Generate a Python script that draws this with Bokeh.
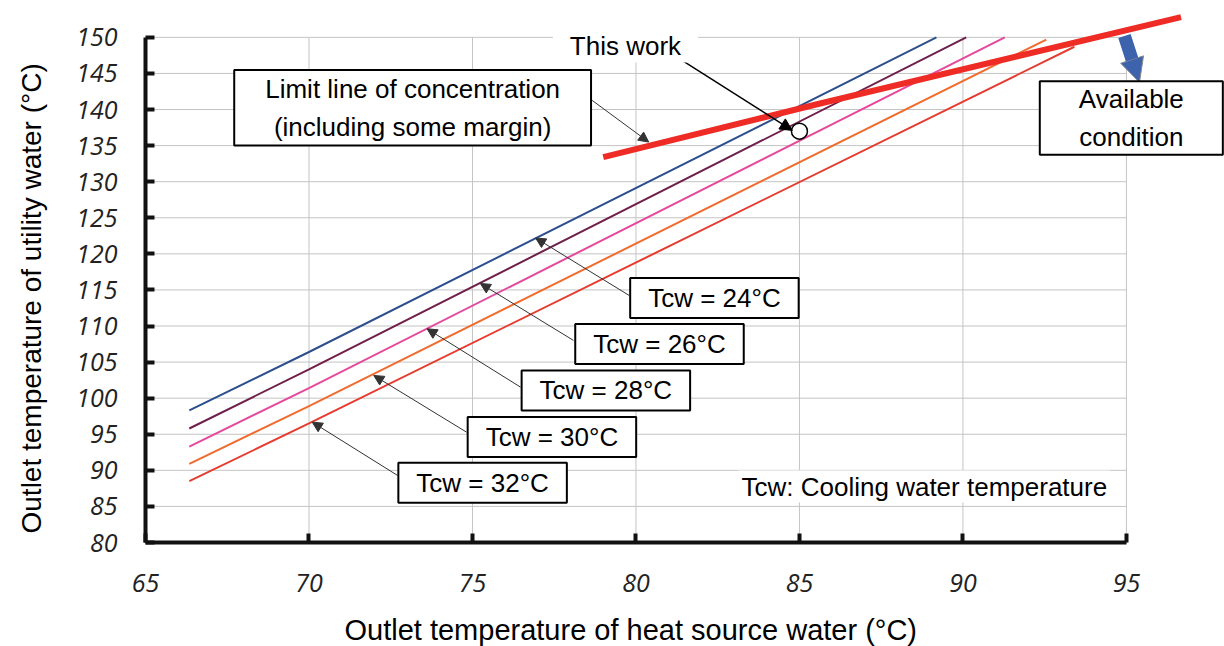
from bokeh.plotting import figure
from bokeh.models import (Range1d, FixedTicker, Label, Arrow, NormalHead, Title,
                          LinearAxis)
from bokeh.embed import file_html
from bokeh.resources import INLINE

# ---------------- data ----------------
x_ticks = [65, 70, 75, 80, 85, 90, 95]
y_ticks = [80, 85, 90, 95, 100, 105, 110, 115, 120, 125, 130, 135, 140, 145, 150]

tcw_names = ["Tcw = 24°C", "Tcw = 26°C", "Tcw = 28°C", "Tcw = 30°C", "Tcw = 32°C"]
tcw24_x = [66.34, 70.0, 89.19]
tcw24_y = [98.3, 106.4, 150.0]
tcw26_x = [66.34, 70.0, 90.10]
tcw26_y = [95.8, 104.0, 150.0]
tcw28_x = [66.34, 70.0, 91.28]
tcw28_y = [93.3, 101.4, 150.0]
tcw30_x = [66.34, 70.0, 92.55]
tcw30_y = [90.9, 98.9, 149.7]
tcw32_x = [66.34, 70.0, 93.41]
tcw32_y = [88.5, 96.5, 148.7]

limit_x = [79.0, 85.6, 96.67]
limit_y = [133.4, 140.8, 152.8]

this_work_x = [85.0]
this_work_y = [137.0]

x_title = "Outlet temperature of heat source water (°C)"
y_title = "Outlet temperature of utility water (°C)"

# ---------------- styles ----------------
series = [
    (tcw24_x, tcw24_y, "#2d4f8e"),
    (tcw26_x, tcw26_y, "#6e1f4b"),
    (tcw28_x, tcw28_y, "#e5489c"),
    (tcw30_x, tcw30_y, "#f26b2e"),
    (tcw32_x, tcw32_y, "#e63b2e"),
]

p = figure(width=1224, height=646,
           x_range=Range1d(65, 98), y_range=Range1d(80, 154),
           output_backend="svg", toolbar_location=None,
           min_border_left=145, min_border_right=0,
           min_border_top=8, min_border_bottom=104)
p.outline_line_color = None
p.xgrid.visible = False
p.ygrid.visible = False
p.background_fill_color = "white"
p.border_fill_color = "white"

# grid (bounded to the axis extents)
gy0, gy1 = y_ticks[0], y_ticks[-1]
gx0, gx1 = x_ticks[0], x_ticks[-1]
p.segment(x0=x_ticks[1:], y0=[gy0] * (len(x_ticks) - 1),
          x1=x_ticks[1:], y1=[gy1] * (len(x_ticks) - 1),
          line_color="#c4c4c4", line_width=1)
p.segment(x0=[gx0] * (len(y_ticks) - 1), y0=y_ticks[1:],
          x1=[gx1] * (len(y_ticks) - 1), y1=y_ticks[1:],
          line_color="#c4c4c4", line_width=1)

for xs, ys, c in series:
    p.line(xs, ys, line_color=c, line_width=2)

p.line(limit_x, limit_y, line_color="#ee2b24", line_width=6)
p.scatter(this_work_x, this_work_y, size=16, fill_color="white",
          line_color="black", line_width=1.5)

FONT = "Liberation Sans"

# axes
for ax in (p.xaxis[0], p.yaxis[0]):
    ax.axis_line_width = 4
    ax.axis_line_color = "#111111"
    ax.major_tick_in = 9
    ax.major_tick_out = 0
    ax.major_tick_line_width = 4
    ax.major_tick_line_color = "#111111"
    ax.minor_tick_line_color = None
    ax.major_label_text_font = "Open Sans"
    ax.major_label_text_font_style = "italic"
    ax.major_label_text_font_size = "25px"
    ax.major_label_text_color = "#222222"
p.xaxis.bounds = (x_ticks[0], x_ticks[-1])
p.yaxis.bounds = (y_ticks[0], y_ticks[-1])
p.xaxis.ticker = FixedTicker(ticks=x_ticks)
p.yaxis.ticker = FixedTicker(ticks=y_ticks)
p.xaxis.major_label_standoff = 31
p.yaxis.major_label_standoff = 28


def spacer(n, at):
    # an otherwise empty axis (one white tick, blank label) that only reserves
    # n pixels of panel space between the tick labels and the axis title
    return LinearAxis(ticker=FixedTicker(ticks=[at]), axis_line_color=None,
                      major_tick_line_color="white", major_tick_line_width=1,
                      minor_tick_line_color=None,
                      major_tick_in=0, major_tick_out=n, minor_tick_in=0,
                      minor_tick_out=0, major_label_standoff=0,
                      major_label_overrides={at: ""},
                      major_label_text_font_size="1px")


p.add_layout(spacer(17, x_ticks[0]), "below")
p.add_layout(spacer(27, y_ticks[0]), "left")

# axis titles as side-panel titles (positioned along the axis bounds)
p.add_layout(Title(text=x_title, align="left", vertical_align="bottom", offset=199,
                   standoff=0, text_font=FONT, text_font_size="29px",
                   text_font_style="normal", text_color="black"), "below")
p.add_layout(Title(text=y_title, align="left", vertical_align="bottom", offset=9,
                   standoff=0, text_font=FONT, text_font_size="28px",
                   text_font_style="normal", text_color="black"), "left")


def box(text, x, y, pad, border=True, size="26px"):
    lab = Label(x=x, y=y, text=text, text_align="center", text_baseline="middle",
                text_font=FONT, text_font_size=size, text_color="black",
                text_line_height=1.25,
                background_fill_color="white",
                border_line_color="black" if border else None,
                border_line_width=2,
                padding=dict(left=pad[0], right=pad[1], top=pad[2], bottom=pad[3]))
    p.add_layout(lab)


def arrow(x0, y0, x1, y1, color="#333333", width=1, head=10):
    p.add_layout(Arrow(end=NormalHead(size=head, fill_color=color, line_color=color),
                       x_start=x0, y_start=y0, x_end=x1, y_end=y1,
                       line_color=color, line_width=width))


# Tcw label arrows (box edge -> line)
arrow(79.79, 114.24, 76.93, 122.2)
arrow(78.09, 108.0, 75.24, 115.9)
arrow(76.47, 101.53, 73.61, 109.62)
arrow(74.82, 95.29, 71.98, 103.15)
arrow(72.71, 89.29, 70.10, 96.68)

# Tcw boxes
box(tcw_names[0], 82.40, 113.89, (18, 18, 5, 5))
box(tcw_names[1], 80.72, 107.52, (18, 18, 5, 5))
box(tcw_names[2], 79.08, 101.07, (18, 18, 5, 5))
box(tcw_names[3], 77.43, 94.62, (18, 18, 5, 5))
box(tcw_names[4], 75.31, 88.29, (18, 18, 5, 5))

# limit-line annotation
arrow(78.66, 141.27, 80.39, 135.49)
box("Limit line of concentration\n(including some margin)", 73.17, 140.23, (31, 31, 4, 4))

# this work
arrow(81.41, 146.81, 84.78, 137.11, color="black", width=1.5, head=12)
box("This work", 79.68, 148.75, (17, 17, 1, 1), border=False)

# available condition (block arrow + box)
p.add_layout(Arrow(end=NormalHead(size=24, fill_color="#3d63ad", line_color="#8a8a8a",
                                  line_width=1),
                   x_start=94.94, y_start=150.2, x_end=95.40, y_end=143.76,
                   line_color="#3d63ad", line_width=13))
box("Available\ncondition", 95.15, 138.84, (39, 39, 3, 3))

# legend note
box("Tcw: Cooling water temperature", 88.82, 87.76, (3, 3, 1, 1), border=False)

open("out.html", "w").write(file_html(p, INLINE))
